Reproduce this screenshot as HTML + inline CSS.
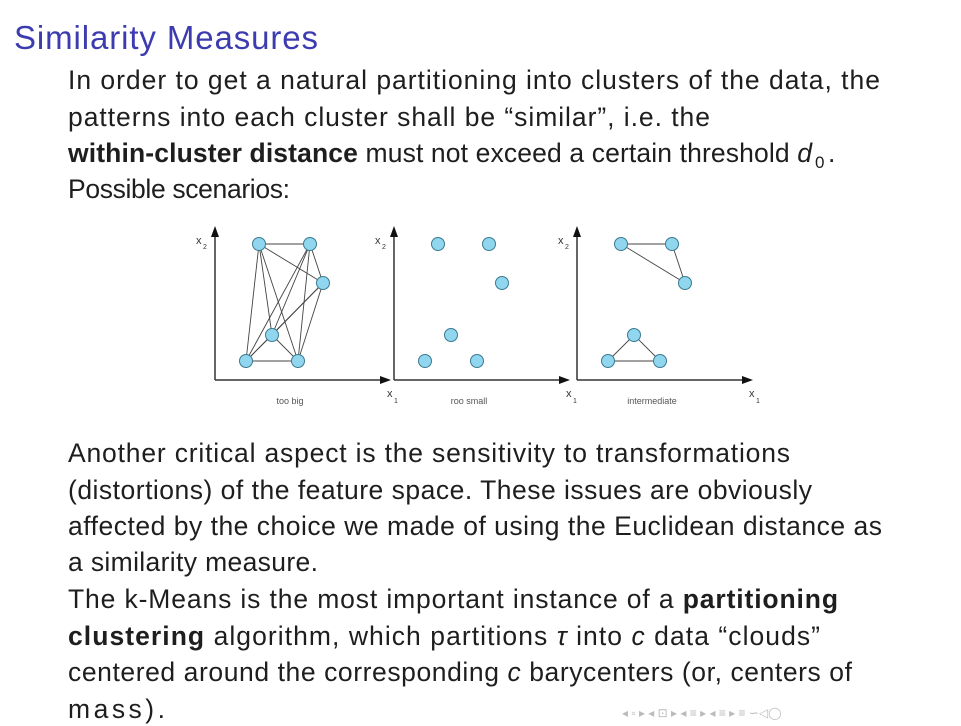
<!DOCTYPE html>
<html><head><meta charset="utf-8"><style>
body{margin:0;background:#fff;}
svg{display:block;font-family:"Liberation Sans",sans-serif;}
.t{font-size:26.5px;fill:#1e1e1e;}
</style></head><body>
<svg width="961" height="726" viewBox="0 0 961 726">
<text x="14" y="49" font-size="33" fill="#3c3cb0" textLength="304">Similarity Measures</text>
<g>
<text class="t" x="68" y="89" textLength="812">In order to get a natural partitioning into clusters of the data, the</text>
<text class="t" x="68" y="126" textLength="642">patterns into each cluster shall be “similar”, i.e. the</text>
<text class="t" x="68" y="162" textLength="744"><tspan font-weight="bold">within-cluster distance</tspan> must not exceed a certain threshold <tspan font-style="italic">d</tspan></text>
<text x="815" y="168" font-size="17" fill="#1e1e1e">0</text><text class="t" x="828" y="162">.</text>
<text class="t" x="68" y="198" textLength="222">Possible scenarios:</text>
</g>
<g id="fig"></g>
<g>
<text class="t" x="68" y="462" textLength="722">Another critical aspect is the sensitivity to transformations</text>
<text class="t" x="68" y="499" textLength="744">(distortions) of the feature space. These issues are obviously</text>
<text class="t" x="68" y="535" textLength="814">affected by the choice we made of using the Euclidean distance as</text>
<text class="t" x="68" y="571" textLength="250">a similarity measure.</text>
<text class="t" x="68" y="608" textLength="770">The k-Means is the most important instance of a <tspan font-weight="bold">partitioning</tspan></text>
<text class="t" x="68" y="645" textLength="752"><tspan font-weight="bold">clustering</tspan> algorithm, which partitions <tspan font-style="italic">τ</tspan> into <tspan font-style="italic">c</tspan> data “clouds”</text>
<text class="t" x="68" y="681" textLength="784">centered around the corresponding <tspan font-style="italic">c</tspan> barycenters (or, centers of</text>
<text class="t" x="68" y="718" textLength="97">mass).</text>
</g>
<g fill="none" stroke="#bbb" stroke-width="1">
<text x="622" y="717" font-size="12" fill="#bbb" stroke="none">◂ ▫ ▸ ◂ ⊡ ▸ ◂ ≡ ▸ ◂ ≡ ▸   ≡   ∽◁◯</text>
</g>
<script>
const pointsX=[259,310,323,272,246,298];
const pointsY=[244,244,283,335,361,361];
const panelOffsets=[0,179,362];
const panelLabels=["too big","roo small","intermediate"];
const edgesBig=[[0,1],[0,2],[0,3],[0,4],[1,2],[1,3],[1,4],[1,5],[2,3],[2,4],[2,5],[3,4],[3,5],[4,5],[0,5]];
const edgesSmall=[];
const edgesMid=[[0,1],[0,2],[1,2],[3,4],[3,5],[4,5]];
const edgeSets=[edgesBig,edgesSmall,edgesMid];
const NS="http://www.w3.org/2000/svg";
const fig=document.getElementById('fig');
function mk(t,a){const e=document.createElementNS(NS,t);for(const k in a)e.setAttribute(k,a[k]);fig.appendChild(e);return e;}
panelOffsets.forEach((dx,p)=>{
  const ax=215+dx;
  let e=mk('line',{x1:ax,y1:380,x2:ax,y2:236,stroke:'#333','stroke-width':1.5});
  
  
  e=mk('polygon',{points:`${ax-4},237 ${ax+4},237 ${ax},226`,fill:'#111'});
  
  
  e=mk('line',{x1:ax,y1:380,x2:ax+166,y2:380,stroke:'#333','stroke-width':1.5});
  
  
  e=mk('polygon',{points:`${ax+165},376 ${ax+165},384 ${ax+176},380`,fill:'#111'});
  
  
  e=mk('text',{x:ax-19,y:244,'font-size':11,fill:'#333'});e.textContent='x';
  
  
  e=mk('text',{x:ax-12,y:249,'font-size':7,fill:'#333'});e.textContent='2';
  e=mk('text',{x:ax+172,y:397,'font-size':11,fill:'#333'});e.textContent='x';
  
  
  e=mk('text',{x:ax+179,y:403,'font-size':7,fill:'#333'});e.textContent='1';
  e=mk('text',{x:ax+75,y:404,'font-size':9,fill:'#555','text-anchor':'middle'});e.textContent=panelLabels[p];
  
  
  edgeSets[p].forEach(([a,b])=>{
    e=mk('line',{x1:pointsX[a]+dx,y1:pointsY[a],x2:pointsX[b]+dx,y2:pointsY[b],stroke:'#444','stroke-width':0.9});
    
    
  });
  pointsX.forEach((x,i)=>{
    e=mk('circle',{cx:x+dx,cy:pointsY[i],r:6.5,fill:'#8fd6ee',stroke:'#3a7a8f','stroke-width':1});
    
    
  });
});
</script>
</svg>
</body></html>
